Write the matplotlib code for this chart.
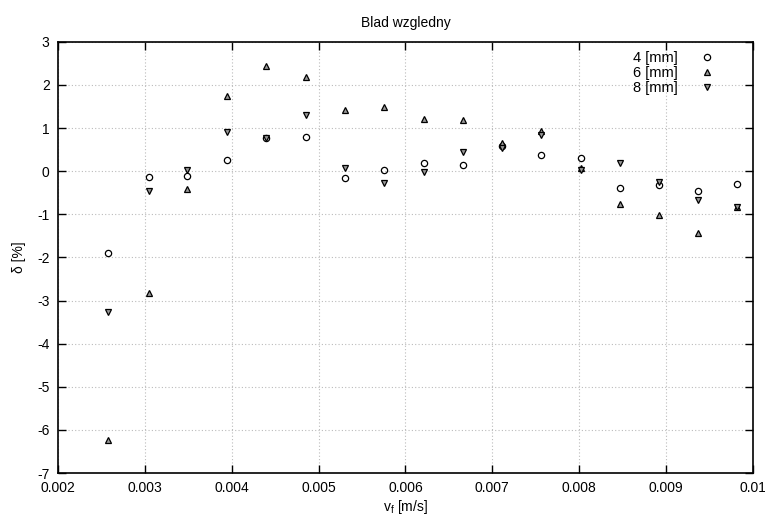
import matplotlib
matplotlib.use("Agg")
import matplotlib.pyplot as plt

plt.rcParams["font.family"] = ["Liberation Sans", "DejaVu Sans"]
plt.rcParams["font.size"] = 10
plt.rcParams["axes.unicode_minus"] = False

# predkosc przeplywu [m/s]
vf = [0.00258, 0.00305, 0.00349, 0.00394, 0.00439, 0.00485, 0.00530, 0.00575, 0.00621,
      0.00666, 0.00711, 0.00756, 0.00802, 0.00847, 0.00892, 0.00937, 0.00982]

# blad wzgledny [%]
d4 = [-1.89, -0.14, -0.10, 0.27, 0.77, 0.79, -0.15, 0.03, 0.20,
      0.15, 0.58, 0.38, 0.31, -0.38, -0.33, -0.45, -0.29]
d6 = [-6.23, -2.83, -0.41, 1.75, 2.43, 2.18, 1.41, 1.48, 1.22,
      1.18, 0.65, 0.94, 0.08, -0.77, -1.02, -1.43, -0.83]
d8 = [-3.27, -0.47, 0.02, 0.91, 0.77, 1.30, 0.08, -0.27, -0.01,
      0.44, 0.53, 0.83, 0.04, 0.18, -0.26, -0.66, -0.83]

fig = plt.figure(figsize=(7.65, 5.17), dpi=100)
ax = fig.add_axes([0.0758, 0.085, 0.9085, 0.834])

ax.plot(vf, d4, "o", ls="none", ms=4.5, mfc="none", mec="black", mew=0.9, label="4 [mm]")
ax.plot(vf, d6, "^", ls="none", ms=5, mfc="#999999", mec="black", mew=0.9, label="6 [mm]")
ax.plot(vf, d8, "v", ls="none", ms=5, mfc="#999999", mec="black", mew=0.9, label="8 [mm]")

ax.set_xlim(0.002, 0.01)
ax.set_ylim(-7, 3)
ax.set_xticks([0.002, 0.003, 0.004, 0.005, 0.006, 0.007, 0.008, 0.009, 0.01])
ax.set_xticklabels(["0.002", "0.003", "0.004", "0.005", "0.006", "0.007", "0.008", "0.009", "0.01"])
ax.set_yticks(range(-7, 4))

ax.grid(True, color="#bbbbbb", linestyle=(0, (1, 2)), linewidth=0.8)
ax.tick_params(direction="in", top=True, right=True, length=6, width=1, pad=6)
for s in ax.spines.values():
    s.set_linewidth(1.2)

ax.set_title("Blad wzgledny", fontsize=10, pad=11)
ax.set_xlabel("v$_\\mathregular{f}$ [m/s]", labelpad=2)
ax.set_ylabel("δ [%]", labelpad=8)

ax.legend(loc="upper right", bbox_to_anchor=(0.971, 1.012), frameon=False, markerfirst=False,
          handlelength=1.5, handletextpad=1.3, labelspacing=0.05, borderaxespad=0.6,
          fontsize=10.5)

fig.savefig("out.png", dpi=100)
